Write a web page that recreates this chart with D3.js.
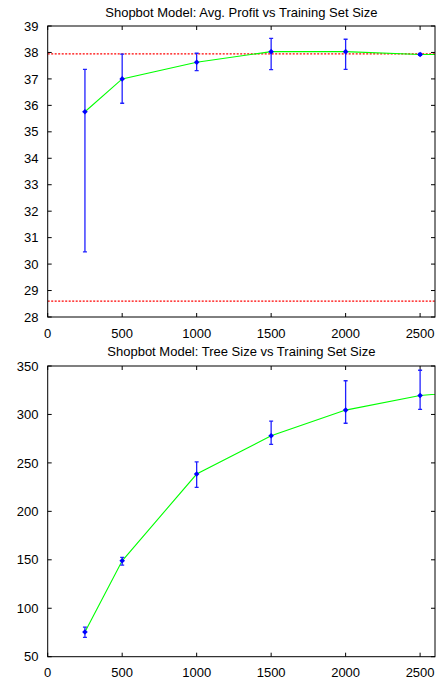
<!DOCTYPE html>
<html><head><meta charset="utf-8">
<script src="https://cdn.jsdelivr.net/npm/d3@7"></script>
<style>body{margin:0;background:#fff}text{font-family:"Liberation Sans",Arial,sans-serif;fill:#000}</style>
</head><body><svg id="c" width="438" height="679"></svg>
<script>
const trainSizes = [250, 500, 1000, 1500, 2000, 2500, 3000];
const profitMean = [35.76, 37.0, 37.63, 38.03, 38.03, 37.92, 37.93];
const profitLow  = [30.46, 36.08, 37.31, 37.35, 37.36, 37.89, 37.9];
const profitHigh = [37.36, 37.94, 37.97, 38.53, 38.5, 37.96, 37.96];
const profitRefLines = [37.95, 28.6];
const treeMean = [75.5, 149, 238.5, 278, 304.5, 319.5, 326];
const treeLow  = [70, 144.6, 224.8, 269.2, 290.9, 305.3, 312];
const treeHigh = [80.5, 152.6, 251, 293.2, 334.8, 345.6, 340];
const xTicks = [0, 500, 1000, 1500, 2000, 2500];
const profitTicks = [28, 29, 30, 31, 32, 33, 34, 35, 36, 37, 38, 39];
const treeTicks = [50, 100, 150, 200, 250, 300, 350];
const titles = ["Shopbot Model: Avg. Profit vs Training Set Size", "Shopbot Model: Tree Size vs Training Set Size"];

const svg = d3.select("#c");
const L = 47.7, R = 435;

function panel(idx, top, bottom, yDom, yTicks, mean, lo, hi, refs, titleY, xLabY) {
  const g = svg.append("g");
  const x = d3.scaleLinear().domain([0, 2600]).range([L, R]);
  const y = d3.scaleLinear().domain(yDom).range([bottom, top]);
  const cid = "clip" + idx;
  g.append("clipPath").attr("id", cid).append("rect")
    .attr("x", L).attr("y", top).attr("width", R - L).attr("height", bottom - top);
  const tl = 4;
  const ax = g.append("g").attr("stroke", "#000").attr("stroke-width", 1);
  yTicks.forEach(t => {
    ax.append("line").attr("x1", L).attr("x2", L + tl).attr("y1", y(t)).attr("y2", y(t));
    ax.append("line").attr("x1", R).attr("x2", R - tl).attr("y1", y(t)).attr("y2", y(t));
  });
  xTicks.forEach(t => {
    ax.append("line").attr("x1", x(t)).attr("x2", x(t)).attr("y1", bottom).attr("y2", bottom - tl);
    ax.append("line").attr("x1", x(t)).attr("x2", x(t)).attr("y1", top).attr("y2", top + tl);
  });
  g.selectAll(".yl").data(yTicks).enter().append("text")
    .attr("x", 38.5).attr("y", d => y(d)).attr("dy", "0.36em")
    .attr("text-anchor", "end").attr("font-size", 13).text(d => d);
  g.selectAll(".xl").data(xTicks).enter().append("text")
    .attr("x", d => x(d)).attr("y", xLabY)
    .attr("text-anchor", "middle").attr("font-size", 13).text(d => d);
  g.append("text").attr("x", (L + R) / 2).attr("y", titleY)
    .attr("text-anchor", "middle").attr("font-size", 13).text(titles[idx]);

  const c = g.append("g").attr("clip-path", `url(#${cid})`);
  refs.forEach(v => {
    c.append("line").attr("x1", L).attr("x2", R).attr("y1", y(v)).attr("y2", y(v))
      .attr("stroke", "#ff0000").attr("stroke-width", 1.2).attr("stroke-dasharray", "2,1.5");
  });
  const pts = trainSizes.map((s, i) => ({s, m: mean[i], lo: lo[i], hi: hi[i]}));
  c.append("path").datum(pts)
    .attr("d", d3.line().x(d => x(d.s)).y(d => y(d.m)))
    .attr("fill", "none").attr("stroke", "#00ff00").attr("stroke-width", 1.1);
  const eb = c.append("g").attr("stroke", "#2020ff").attr("stroke-width", 1.3);
  pts.forEach(d => {
    eb.append("line").attr("x1", x(d.s)).attr("x2", x(d.s)).attr("y1", y(d.lo)).attr("y2", y(d.hi));
    eb.append("line").attr("x1", x(d.s) - 2).attr("x2", x(d.s) + 2).attr("y1", y(d.lo)).attr("y2", y(d.lo));
    eb.append("line").attr("x1", x(d.s) - 2).attr("x2", x(d.s) + 2).attr("y1", y(d.hi)).attr("y2", y(d.hi));
  });
  c.selectAll(".pt").data(pts).enter().append("path")
    .attr("transform", d => `translate(${x(d.s)},${y(d.m)})`)
    .attr("d", "M0,-2.8L2.8,0L0,2.8L-2.8,0Z").attr("fill", "#0000ff");
  g.append("rect").attr("x", L).attr("y", top).attr("width", R - L).attr("height", bottom - top)
    .attr("fill", "none").attr("stroke", "#000").attr("stroke-width", 1);
}

panel(0, 26, 317, [28, 39], profitTicks, profitMean, profitLow, profitHigh, profitRefLines, 17, 338);
panel(1, 366, 656.7, [50, 350], treeTicks, treeMean, treeLow, treeHigh, [], 356, 677);
</script></body></html>
